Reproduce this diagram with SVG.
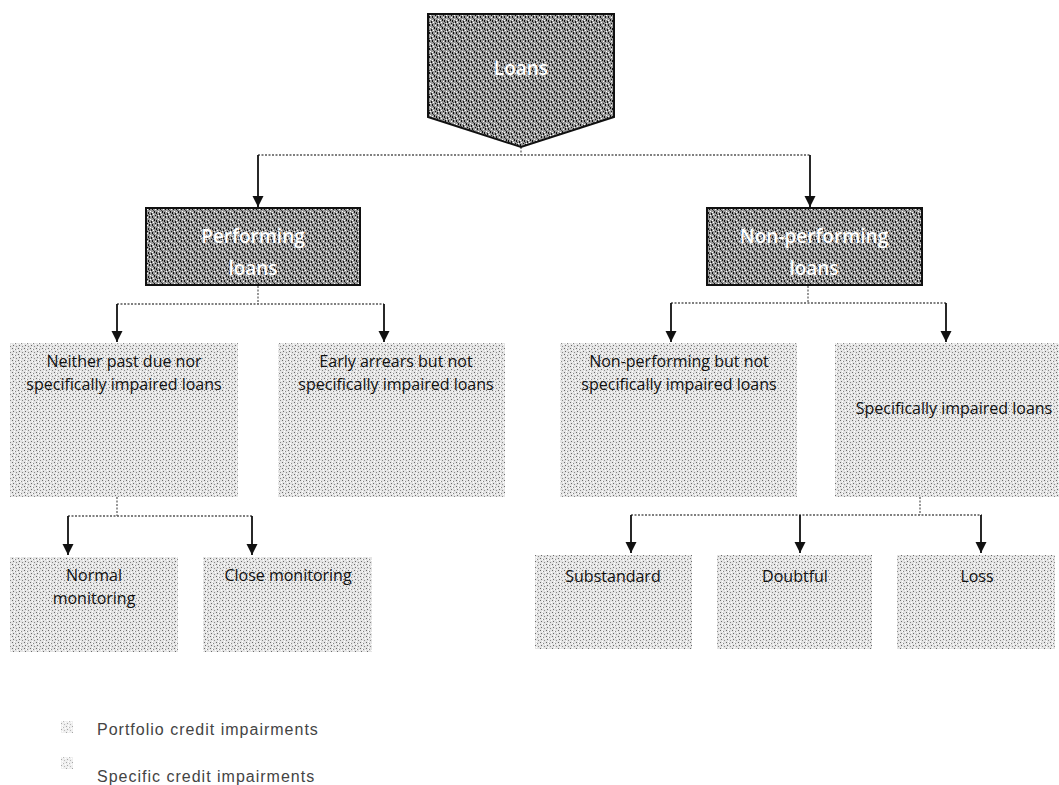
<svg xmlns="http://www.w3.org/2000/svg" width="1059" height="785" viewBox="0 0 1059 785">
<defs>
  <pattern id="darkStip" width="8" height="8" patternUnits="userSpaceOnUse">
    <rect width="8" height="8" fill="#9c9c9c"/>
    <rect x="0" y="0" width="1" height="2" fill="#111"/>
    <rect x="3" y="1" width="1" height="1" fill="#fff"/>
    <rect x="5" y="0" width="1" height="2" fill="#111"/>
    <rect x="2" y="3" width="1" height="2" fill="#111"/>
    <rect x="6" y="3" width="1" height="1" fill="#fff"/>
    <rect x="4" y="4" width="1" height="2" fill="#111"/>
    <rect x="7" y="5" width="1" height="2" fill="#111"/>
    <rect x="1" y="6" width="1" height="1" fill="#fff"/>
    <rect x="3" y="7" width="1" height="1" fill="#111"/>
    <rect x="0" y="4" width="1" height="1" fill="#fff"/>
    <rect x="6" y="7" width="1" height="1" fill="#fff"/>
    <rect x="1" y="2" width="1" height="1" fill="#444"/>
    <rect x="5" y="6" width="1" height="1" fill="#444"/>
  </pattern>
  <pattern id="lightStip" width="6" height="6" patternUnits="userSpaceOnUse">
    <rect width="6" height="6" fill="#e4e4e4"/>
    <rect x="0" y="0" width="1" height="1" fill="#6a6a6a"/>
    <rect x="3" y="1" width="1" height="1" fill="#888"/>
    <rect x="1" y="3" width="1" height="1" fill="#6a6a6a"/>
    <rect x="4" y="4" width="1" height="1" fill="#888"/>
    <rect x="5" y="2" width="1" height="1" fill="#fff"/>
    <rect x="2" y="5" width="1" height="1" fill="#fff"/>
    <rect x="2" y="1" width="1" height="1" fill="#fff"/>
  </pattern>
  <marker id="arr" markerWidth="12" markerHeight="12" refX="11" refY="6" orient="auto" markerUnits="userSpaceOnUse" viewBox="0 0 12 12">
    <path d="M0,0.5 L11,6 L0,11.5 Z" fill="#111"/>
  </marker>
  <style>
    .dark { fill: url(#darkStip); stroke: #111; stroke-width: 2; }
    .light { fill: url(#lightStip); stroke: none; }
    .dt { font-family: "Open Sans", "DejaVu Sans", sans-serif; font-size: 19px; fill: #ffffff; text-anchor: middle; font-weight: 600; }
    .lt { font-family: "Open Sans", "DejaVu Sans", sans-serif; font-size: 16px; fill: #111; text-anchor: middle; }
    .stub { stroke: #555; stroke-width: 1.2; stroke-dasharray: 2 1.5; fill: none; }
    .bar { stroke: #555; stroke-width: 1.6; stroke-dasharray: 2 1.5; fill: none; }
    .shaft { stroke: #111; stroke-width: 1.8; fill: none; }
    .leg { font-family: "Liberation Sans", Arial, sans-serif; font-size: 16px; fill: #444; letter-spacing: 1px; }
  </style>
</defs>
<rect width="1059" height="785" fill="#ffffff"/>

<g id="connectors">
  <path class="stub" d="M521,147 V155"/>
  <path class="bar" d="M258,155 H810"/>
  <path class="shaft" d="M258,155 V207" marker-end="url(#arr)"/>
  <path class="shaft" d="M810,155 V207" marker-end="url(#arr)"/>

  <path class="stub" d="M258,286 V304"/>
  <path class="bar" d="M117,304 H384"/>
  <path class="shaft" d="M117,304 V342" marker-end="url(#arr)"/>
  <path class="shaft" d="M384,304 V342" marker-end="url(#arr)"/>

  <path class="stub" d="M808,286 V303"/>
  <path class="bar" d="M671,303 H946"/>
  <path class="shaft" d="M671,303 V342" marker-end="url(#arr)"/>
  <path class="shaft" d="M946,303 V342" marker-end="url(#arr)"/>

  <path class="stub" d="M117,497 V516"/>
  <path class="bar" d="M68,516 H252"/>
  <path class="shaft" d="M68,516 V555" marker-end="url(#arr)"/>
  <path class="shaft" d="M252,516 V555" marker-end="url(#arr)"/>

  <path class="stub" d="M920,497 V515"/>
  <path class="bar" d="M631,515 H982"/>
  <path class="shaft" d="M631,515 V553" marker-end="url(#arr)"/>
  <path class="shaft" d="M800,515 V553" marker-end="url(#arr)"/>
  <path class="shaft" d="M981,515 V553" marker-end="url(#arr)"/>
</g>

<g id="loans">
  <path class="dark" d="M428,14 H614 V117 L521,147 L428,117 Z"/>
  <text class="dt" x="521" y="75">Loans</text>
</g>

<g id="performing">
  <rect class="dark" x="146" y="208" width="214" height="77"/>
  <text class="dt" x="253" y="243">Performing</text>
  <text class="dt" x="253" y="275">loans</text>
</g>

<g id="nonperforming">
  <rect class="dark" x="707" y="208" width="215" height="77"/>
  <text class="dt" x="814" y="243">Non-performing</text>
  <text class="dt" x="814" y="275">loans</text>
</g>

<g id="neither">
  <rect class="light" x="10" y="343" width="228" height="154"/>
  <text class="lt" x="124" y="367">Neither past due nor</text>
  <text class="lt" x="124" y="390">specifically impaired loans</text>
</g>

<g id="early">
  <rect class="light" x="278" y="343" width="227" height="154"/>
  <text class="lt" x="396" y="367">Early arrears but not</text>
  <text class="lt" x="396" y="390">specifically impaired loans</text>
</g>

<g id="nonperf-not">
  <rect class="light" x="560" y="343" width="237" height="154"/>
  <text class="lt" x="679" y="367">Non-performing but not</text>
  <text class="lt" x="679" y="390">specifically impaired loans</text>
</g>

<g id="specific">
  <rect class="light" x="835" y="343" width="237" height="154"/>
  <text class="lt" x="954" y="414">Specifically impaired loans</text>
</g>

<g id="normal">
  <rect class="light" x="10" y="557" width="168" height="95"/>
  <text class="lt" x="94" y="581">Normal</text>
  <text class="lt" x="94" y="604">monitoring</text>
</g>

<g id="close">
  <rect class="light" x="203" y="557" width="169" height="95"/>
  <text class="lt" x="288" y="581">Close monitoring</text>
</g>

<g id="substandard">
  <rect class="light" x="535" y="555" width="157" height="94"/>
  <text class="lt" x="613" y="582">Substandard</text>
</g>

<g id="doubtful">
  <rect class="light" x="717" y="555" width="155" height="94"/>
  <text class="lt" x="795" y="582">Doubtful</text>
</g>

<g id="loss">
  <rect class="light" x="897" y="555" width="158" height="94"/>
  <text class="lt" x="977" y="582">Loss</text>
</g>

<g id="legend">
  <rect class="light" x="61" y="721" width="12" height="12" opacity="0.6"/>
  <text class="leg" x="97" y="735">Portfolio credit impairments</text>
  <rect class="light" x="61" y="757" width="12" height="12" opacity="0.6"/>
  <text class="leg" x="97" y="782">Specific credit impairments</text>
</g>
</svg>
